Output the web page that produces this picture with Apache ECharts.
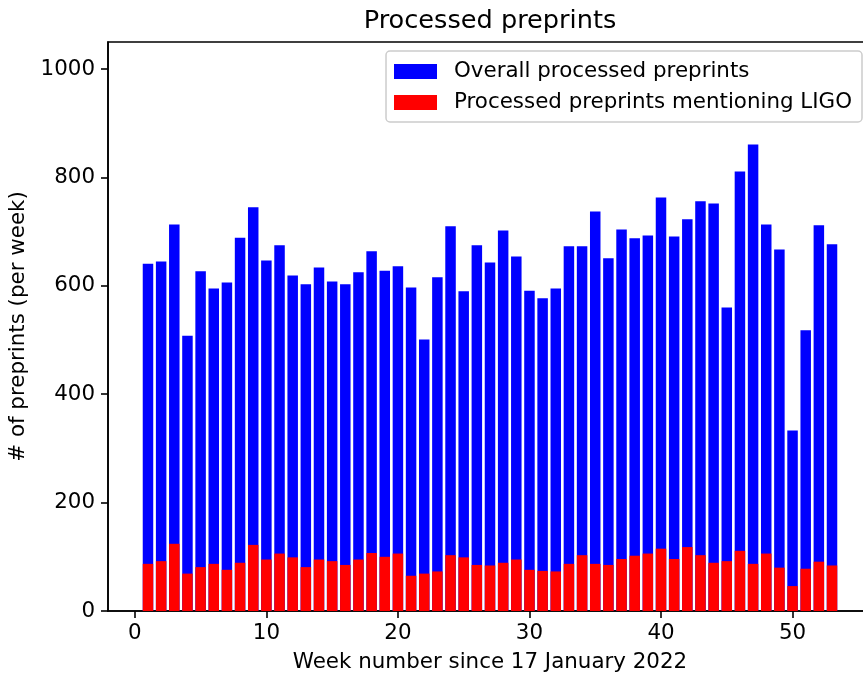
<!DOCTYPE html>
<html>
<head>
<meta charset="utf-8">
<script src="https://cdn.jsdelivr.net/npm/echarts@6/dist/echarts.min.js"></script>
<style>
html,body{margin:0;padding:0;background:#fff;}
#chart{width:863px;height:677px;}
</style>
</head>
<body>
<div id="chart"></div>
<script>
const weeks = [1,2,3,4,5,6,7,8,9,10,11,12,13,14,15,16,17,18,19,20,21,22,23,24,25,26,27,28,29,30,31,32,33,34,35,36,37,38,39,40,41,42,43,44,45,46,47,48,49,50,51,52,53];
const overall = [641,645,713,508,627,595,606,689,745,647,675,619,603,634,608,603,625,664,628,636,597,501,616,710,590,675,643,702,654,591,577,595,673,673,737,651,704,688,693,763,691,723,756,752,560,811,861,713,667,333,518,712,677];
const ligo = [87,92,124,69,81,87,76,89,122,95,106,99,81,95,92,85,95,107,100,106,65,69,73,103,99,85,84,89,95,76,74,73,87,103,87,85,96,102,106,115,96,118,103,89,92,111,87,106,80,46,78,91,84];
const xTicks = [0,10,20,30,40,50];
const yTicks = [0,200,400,600,800,1000];
const seriesNames = ['Overall processed preprints','Processed preprints mentioning LIGO'];
const titleText = 'Processed preprints';
const xName = 'Week number since 17 January 2022';
const yName = '# of preprints (per week)';

const FONT = 'DejaVu Sans';
const FS = 21.4;
const LW = 1.6;
const chart = echarts.init(document.getElementById('chart'), null, {renderer:'canvas'});
chart.setOption({
  animation:false,
  backgroundColor:'#fff',
  textStyle:{fontFamily:FONT},
  title:{
    text:titleText, left:485, top:3, textAlign:'center',
    textStyle:{fontFamily:FONT, fontSize:25.6, fontWeight:'normal', color:'#000'}
  },
  legend:{
    orient:'vertical', right:1, top:51,
    data:seriesNames,
    itemWidth:43, itemHeight:15, itemGap:10,
    padding:[10,10,9,8],
    borderColor:'#cccccc', borderWidth:1.5, borderRadius:4,
    backgroundColor:'rgba(255,255,255,0.8)',
    textStyle:{fontFamily:FONT, fontSize:FS, color:'#000', padding:[0,0,0,12]},
    icon:'rect'
  },
  grid:{left:108, top:42, width:764, height:569, show:true, borderColor:'#000', borderWidth:LW, outerBoundsMode:'none'},
  xAxis:{
    type:'value', min:-2.04, max:56.04,
    name:xName, nameLocation:'middle', nameGap:41,
    nameTextStyle:{fontFamily:FONT, fontSize:FS, color:'#000'},
    axisLine:{show:true, onZero:false, lineStyle:{color:'#000', width:LW}},
    axisTick:{show:true, length:7, inside:false, customValues:xTicks, lineStyle:{color:'#000', width:LW}},
    axisLabel:{customValues:xTicks, margin:12, fontFamily:FONT, fontSize:FS, color:'#000'},
    splitLine:{show:false}
  },
  yAxis:{
    type:'value', min:0, max:1050,
    name:yName, nameLocation:'middle', nameGap:79, nameRotate:90,
    nameTextStyle:{fontFamily:FONT, fontSize:FS, color:'#000'},
    axisLine:{show:true, onZero:false, lineStyle:{color:'#000', width:LW}},
    axisTick:{show:true, length:7, customValues:yTicks, lineStyle:{color:'#000', width:LW}},
    axisLabel:{customValues:yTicks, margin:13, fontFamily:FONT, fontSize:FS, color:'#000', formatter:v=>String(v)},
    splitLine:{show:false}
  },
  series:[
    {name:seriesNames[0], type:'bar', barWidth:10.5, barGap:'-100%',
     itemStyle:{color:'#0000ff'},
     data:weeks.map((w,i)=>[w, overall[i]])},
    {name:seriesNames[1], type:'bar', barWidth:10.5, barGap:'-100%',
     itemStyle:{color:'#ff0000'},
     data:weeks.map((w,i)=>[w, ligo[i]])}
  ]
});
</script>
</body>
</html>
